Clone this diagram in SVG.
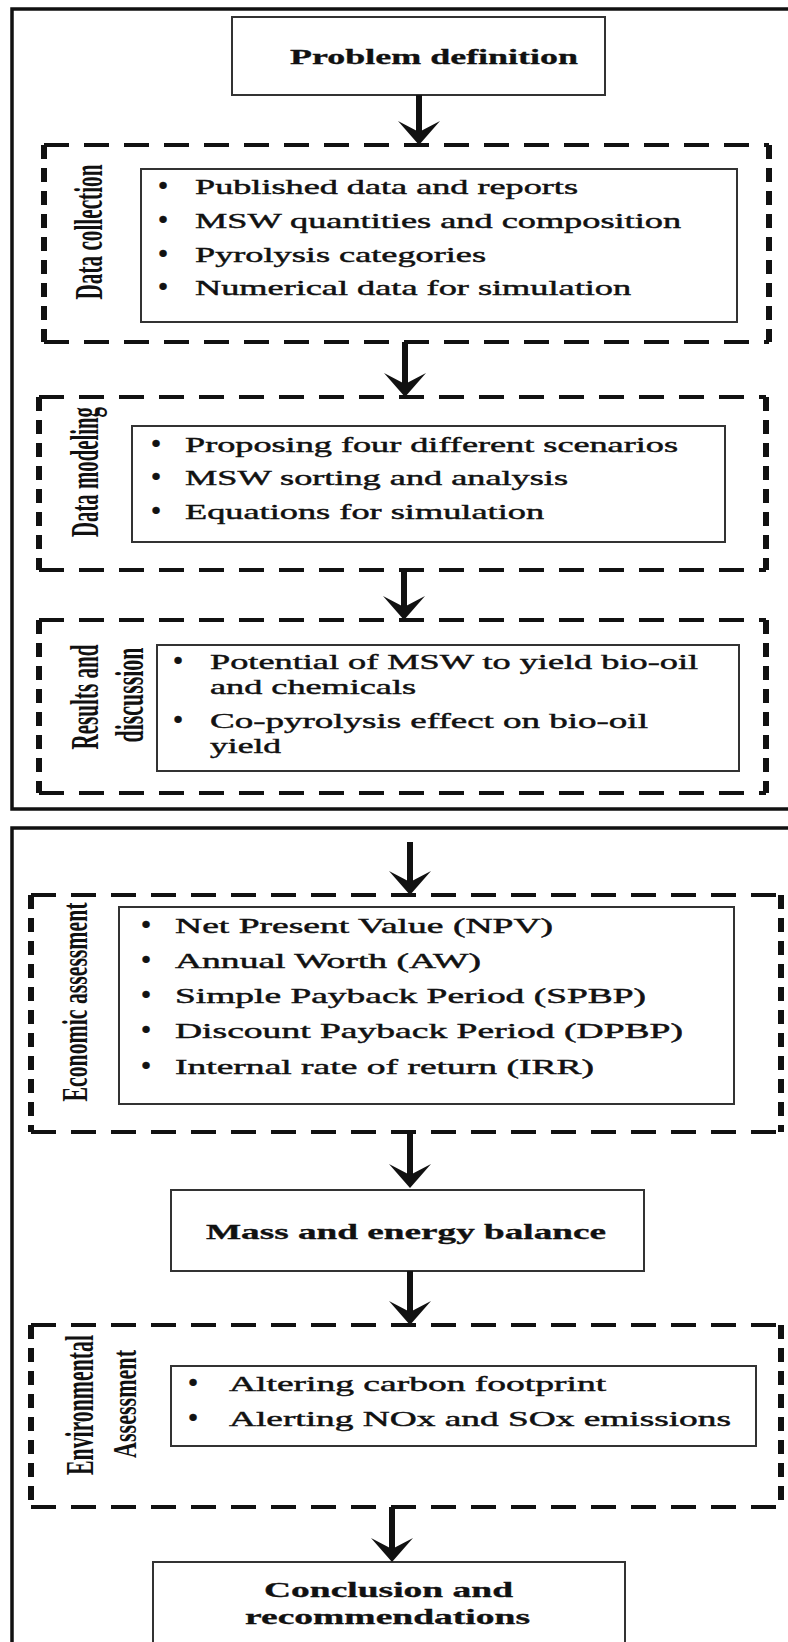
<svg xmlns="http://www.w3.org/2000/svg" width="788" height="1642" viewBox="0 0 788 1642">
<defs>
<style>
.frame{fill:none;stroke:#111;stroke-width:3.5}
.box{fill:#fff;stroke:#333;stroke-width:2}
.dh{fill:none;stroke:#111;stroke-width:4;stroke-dasharray:25 15}
.dv{fill:none;stroke:#111;stroke-width:6;stroke-dasharray:14 9}
.t{font-family:"Liberation Serif","Times New Roman",serif;font-size:22px;fill:#111;stroke:#111;stroke-width:0.45}
.bl{font-size:26px;font-weight:bold}
.h{font-family:"Liberation Serif","Times New Roman",serif;font-size:20px;font-weight:bold;fill:#111;stroke:#111;stroke-width:0.3}
.v{font-family:"Liberation Serif","Times New Roman",serif;font-weight:bold;fill:#111}
.stem{fill:none;stroke:#111;stroke-width:6}
</style>
<marker id="ah" markerUnits="userSpaceOnUse" viewBox="0 0 24 42" markerWidth="24" markerHeight="42" refX="12" refY="21" orient="auto">
<polygon points="0,0 24,21 0,42 11,21" fill="#111"/>
</marker>
</defs>
<rect width="788" height="1642" fill="#fff"/>

<g id="frames">
<rect class="frame" x="12" y="9" width="800" height="800"/>
<rect class="frame" x="12" y="828" width="800" height="850"/>
</g>

<g id="problem-definition">
<rect class="box" x="232" y="17" width="373" height="78"/>
<text class="h" transform="translate(290,64) scale(1.75,1)" textLength="164.6" lengthAdjust="spacingAndGlyphs">Problem definition</text>
</g>

<g id="data-collection">
<path class="dh" d="M44,145 H769 M44,342 H769"/>
<path class="dv" d="M44,145 V342 M769,145 V342"/>
<rect class="box" x="141" y="169" width="596" height="153"/>
<text class="v" font-size="40" transform="translate(102,232) rotate(-90)" text-anchor="middle" textLength="135" lengthAdjust="spacingAndGlyphs">Data collection</text>
<g class="t">
<text class="bl" x="163" y="194" text-anchor="middle">•</text>
<text transform="translate(195,194) scale(1.7,1)" textLength="225.3" lengthAdjust="spacingAndGlyphs">Published data and reports</text>
<text class="bl" x="163" y="228" text-anchor="middle">•</text>
<text transform="translate(195,228) scale(1.7,1)" textLength="285.9" lengthAdjust="spacingAndGlyphs">MSW quantities and composition</text>
<text class="bl" x="163" y="262" text-anchor="middle">•</text>
<text transform="translate(195,262) scale(1.7,1)" textLength="171.2" lengthAdjust="spacingAndGlyphs">Pyrolysis categories</text>
<text class="bl" x="163" y="295" text-anchor="middle">•</text>
<text transform="translate(195,295) scale(1.7,1)" textLength="256.5" lengthAdjust="spacingAndGlyphs">Numerical data for simulation</text>
</g>
</g>

<g id="data-modeling">
<path class="dh" d="M39,397 H766 M39,570 H766"/>
<path class="dv" d="M39,397 V570 M766,397 V570"/>
<rect class="box" x="132" y="426" width="593" height="116"/>
<text class="v" font-size="40" transform="translate(98,472) rotate(-90)" text-anchor="middle" textLength="130" lengthAdjust="spacingAndGlyphs">Data modeling</text>
<g class="t">
<text class="bl" x="156" y="452" text-anchor="middle">•</text>
<text transform="translate(185,452) scale(1.7,1)" textLength="290" lengthAdjust="spacingAndGlyphs">Proposing four different scenarios</text>
<text class="bl" x="156" y="485" text-anchor="middle">•</text>
<text transform="translate(185,485) scale(1.7,1)" textLength="225.3" lengthAdjust="spacingAndGlyphs">MSW sorting and analysis</text>
<text class="bl" x="156" y="519" text-anchor="middle">•</text>
<text transform="translate(185,519) scale(1.7,1)" textLength="211.2" lengthAdjust="spacingAndGlyphs">Equations for simulation</text>
</g>
</g>

<g id="results-discussion">
<path class="dh" d="M39,620 H766 M39,793 H766"/>
<path class="dv" d="M39,620 V793 M766,620 V793"/>
<rect class="box" x="157" y="645" width="582" height="126"/>
<text class="v" font-size="40" transform="translate(98,697) rotate(-90)" text-anchor="middle" textLength="105" lengthAdjust="spacingAndGlyphs">Results and</text>
<text class="v" font-size="40" transform="translate(143,695) rotate(-90)" text-anchor="middle" textLength="95" lengthAdjust="spacingAndGlyphs">discussion</text>
<g class="t">
<text class="bl" x="178" y="669" text-anchor="middle">•</text>
<text transform="translate(210,669) scale(1.7,1)" textLength="287.1" lengthAdjust="spacingAndGlyphs">Potential of MSW to yield bio-oil</text>
<text transform="translate(210,694) scale(1.7,1)" textLength="121.2" lengthAdjust="spacingAndGlyphs">and chemicals</text>
<text class="bl" x="178" y="728" text-anchor="middle">•</text>
<text transform="translate(210,728) scale(1.7,1)" textLength="257.6" lengthAdjust="spacingAndGlyphs">Co-pyrolysis effect on  bio-oil</text>
<text transform="translate(210,753) scale(1.7,1)" textLength="41.8" lengthAdjust="spacingAndGlyphs">yield</text>
</g>
</g>

<g id="economic-assessment">
<path class="dh" d="M31,895 H781 M31,1132 H781"/>
<path class="dv" d="M31,895 V1132 M781,895 V1132"/>
<rect class="box" x="119" y="907" width="615" height="197"/>
<text class="v" font-size="36" transform="translate(87,1002) rotate(-90)" text-anchor="middle" textLength="199" lengthAdjust="spacingAndGlyphs">Economic assessment</text>
<g class="t">
<text class="bl" x="146" y="933" text-anchor="middle">•</text>
<text transform="translate(175,933) scale(1.7,1)" textLength="222.4" lengthAdjust="spacingAndGlyphs">Net Present Value (NPV)</text>
<text class="bl" x="146" y="968" text-anchor="middle">•</text>
<text transform="translate(175,968) scale(1.7,1)" textLength="180" lengthAdjust="spacingAndGlyphs">Annual Worth (AW)</text>
<text class="bl" x="146" y="1003" text-anchor="middle">•</text>
<text transform="translate(175,1003) scale(1.7,1)" textLength="277.1" lengthAdjust="spacingAndGlyphs">Simple Payback Period (SPBP)</text>
<text class="bl" x="146" y="1038" text-anchor="middle">•</text>
<text transform="translate(175,1038) scale(1.7,1)" textLength="298.8" lengthAdjust="spacingAndGlyphs">Discount Payback Period (DPBP)</text>
<text class="bl" x="146" y="1074" text-anchor="middle">•</text>
<text transform="translate(175,1074) scale(1.7,1)" textLength="246.5" lengthAdjust="spacingAndGlyphs">Internal rate of return (IRR)</text>
</g>
</g>

<g id="mass-energy-balance">
<rect class="box" x="171" y="1190" width="473" height="81"/>
<text class="h" transform="translate(206,1239) scale(1.75,1)" textLength="228.6" lengthAdjust="spacingAndGlyphs">Mass and energy balance</text>
</g>

<g id="environmental-assessment">
<path class="dh" d="M31,1325 H781 M31,1507 H781"/>
<path class="dv" d="M31,1325 V1507 M781,1325 V1507"/>
<rect class="box" x="171" y="1366" width="585" height="80"/>
<text class="v" font-size="40" transform="translate(93,1405) rotate(-90)" text-anchor="middle" textLength="140" lengthAdjust="spacingAndGlyphs">Environmental</text>
<text class="v" font-size="34" transform="translate(136,1404) rotate(-90)" text-anchor="middle" textLength="108" lengthAdjust="spacingAndGlyphs">Assessment</text>
<g class="t">
<text class="bl" x="193" y="1391" text-anchor="middle">•</text>
<text transform="translate(229,1391) scale(1.7,1)" textLength="221.8" lengthAdjust="spacingAndGlyphs">Altering carbon footprint</text>
<text class="bl" x="193" y="1426" text-anchor="middle">•</text>
<text transform="translate(229,1426) scale(1.7,1)" textLength="295.3" lengthAdjust="spacingAndGlyphs">Alerting NOx and SOx emissions</text>
</g>
</g>

<g id="conclusion">
<rect class="box" x="153" y="1562" width="472" height="100"/>
<text class="h" transform="translate(264,1597) scale(1.75,1)" textLength="142.3" lengthAdjust="spacingAndGlyphs">Conclusion and</text>
<text class="h" transform="translate(245,1624) scale(1.75,1)" textLength="162.9" lengthAdjust="spacingAndGlyphs">recommendations</text>
</g>

<g id="connectors">
<path class="stem" d="M419,95 V133" marker-end="url(#ah)"/>
<path class="stem" d="M405,342 V385" marker-end="url(#ah)"/>
<path class="stem" d="M404,570 V608" marker-end="url(#ah)"/>
<path class="stem" d="M410,842 V883" marker-end="url(#ah)"/>
<path class="stem" d="M410,1132 V1176" marker-end="url(#ah)"/>
<path class="stem" d="M410,1271 V1313" marker-end="url(#ah)"/>
<path class="stem" d="M392,1507 V1550" marker-end="url(#ah)"/>
</g>
</svg>
